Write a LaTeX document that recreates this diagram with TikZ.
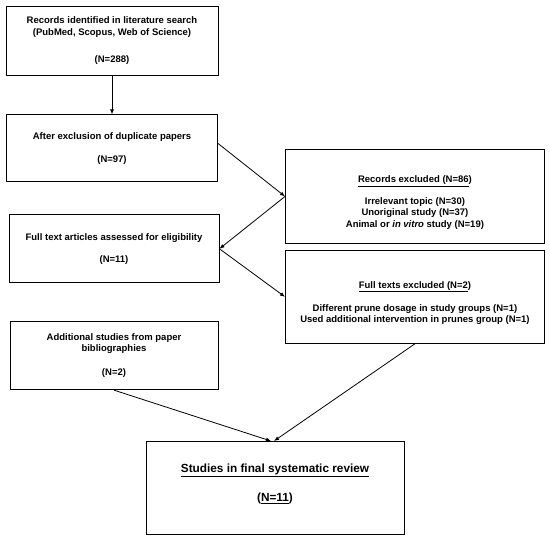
\documentclass[tikz,border=0pt]{standalone}
\usepackage{fontspec}
\setmainfont{Liberation Sans}
\usepackage{tikz}
\usetikzlibrary{arrows.meta, positioning}

\begin{document}
\begin{tikzpicture}[x=1pt, y=1pt,
  box/.style={draw=black, line width=0.9pt, fill=white, inner sep=2pt,
              minimum width=211pt, minimum height=68pt, align=center,
              font=\fontsize{9.5}{11.5}\selectfont\bfseries},
  wide/.style={box, minimum width=259pt, minimum height=94pt},
  arr/.style={-{Latex[length=5pt,width=4pt]}, black, line width=0.8pt},
]
\useasboundingbox (0,0) rectangle (550,-539);

\node[box, minimum width=212pt, minimum height=69pt] (rec) at (112,-40.5)
  {Records identified in literature search\\(PubMed, Scopus, Web of Science)\\[15.7pt](N=288)};
\node[box, minimum height=67pt, below=39pt of rec] (dup)
  {After exclusion of duplicate papers\\[11.5pt](N=97)};
\node[box, minimum width=210pt, below=32pt of dup, xshift=2pt] (full)
  {Full text articles assessed for eligibility\\[10.5pt](N=11)};
\node[box, minimum width=208pt, below=38pt of full] (add)
  {Additional studies from paper\\bibliographies\\[12.5pt](N=2)};

\node[wide, anchor=north west] (excl) at (285,-149)
  {\rule{0pt}{19pt}\underline{Records excluded (N=86})\\[10pt]
   Irrelevant topic (N=30)\\Unoriginal study (N=37)\\
   Animal or \textit{in vitro} study (N=19)};
\node[wide, minimum height=93pt, below=6pt of excl] (exclft)
  {\rule{0pt}{19pt}\underline{Full texts excluded (N=2})\\[11.5pt]
   Different prune dosage in study groups (N=1)\\
   Used additional intervention in prunes group (N=1)};

\node[box, minimum width=258pt, minimum height=93pt, anchor=north,
      font=\fontsize{11.8}{14}\selectfont\bfseries] (final) at (275,-441)
  {\underline{Studies in final systematic review}\\[15pt]
   (\underline{N=11})\rule[-10.5pt]{0pt}{1pt}};

\draw[arr] (rec.south) -- (dup.north);
\draw[arr] ([yshift=5pt]dup.east) -- (excl.west);
\draw[arr] (excl.west) -- (full.east);
\draw[arr] (full.east) -- (exclft.west);
\draw[arr] (add.south) -- ([xshift=-4pt]final.north);
\draw[arr] (exclft.south) -- ([xshift=-1pt]final.north);
\end{tikzpicture}
\end{document}
